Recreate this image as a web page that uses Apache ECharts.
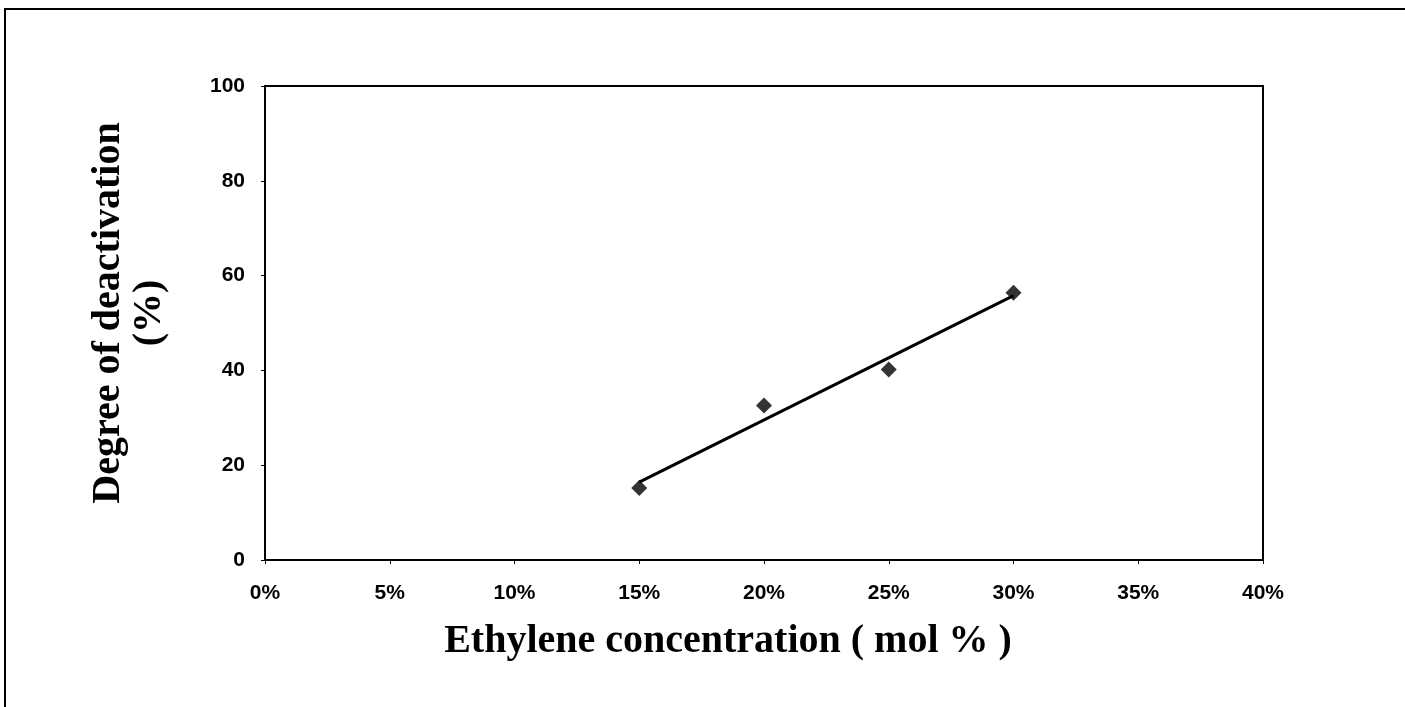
<!DOCTYPE html>
<html>
<head>
<meta charset="utf-8">
<script src="https://cdn.jsdelivr.net/npm/echarts@6/dist/echarts.min.js"></script>
<style>
html,body{margin:0;padding:0;background:#fff;}
#c{width:1405px;height:707px;}
</style>
</head>
<body>
<div id="c"></div>
<script>
// Data
var xValues = [0.15, 0.20, 0.25, 0.30];          // ethylene concentration (fraction)
var yValues = [15.2, 32.6, 40.2, 56.4];          // degree of deactivation (%)
var xTicks = [0, 0.05, 0.10, 0.15, 0.20, 0.25, 0.30, 0.35, 0.40];
var yTicks = [0, 20, 40, 60, 80, 100];

// Linear least-squares trendline (as in the original spreadsheet chart)
function linearFit(xs, ys) {
  var n = xs.length, sx = 0, sy = 0, sxx = 0, sxy = 0;
  for (var i = 0; i < n; i++) { sx += xs[i]; sy += ys[i]; sxx += xs[i]*xs[i]; sxy += xs[i]*ys[i]; }
  var m = (n*sxy - sx*sy) / (n*sxx - sx*sx);
  var b = (sy - m*sx) / n;
  return {m: m, b: b};
}
var fit = linearFit(xValues, yValues);
var xMin = Math.min.apply(null, xValues), xMax = Math.max.apply(null, xValues);
var trend = [[xMin, fit.m*xMin + fit.b], [xMax, fit.m*xMax + fit.b]];
var points = xValues.map(function(x, i){ return [x, yValues[i]]; });

var chart = echarts.init(document.getElementById('c'), null, {renderer: 'canvas'});
chart.setOption({
  animation: false,
  backgroundColor: '#ffffff',
  grid: {left: 265, top: 86, right: 142, bottom: 147, show: true, borderColor: '#000', borderWidth: 2, backgroundColor: 'transparent'},
  xAxis: {
    type: 'value', min: 0, max: 0.4, interval: 0.05,
    axisLine: {show: true, lineStyle: {color: '#000', width: 2}},
    axisTick: {show: true, length: 4, lineStyle: {color: '#000'}},
    splitLine: {show: false},
    axisLabel: {
      margin: 23, color: '#000', fontFamily: 'Liberation Sans', fontSize: 21, fontWeight: 'bold',
      formatter: function(v){ return Math.round(v*100) + '%'; }
    },
    name: 'Ethylene concentration ( mol % )',
    nameLocation: 'middle', nameGap: 62,
    nameTextStyle: {color: '#000', fontFamily: 'Liberation Serif', fontWeight: 'bold', fontSize: 40, padding: [0, 72, 0, 0]}
  },
  yAxis: {
    type: 'value', min: 0, max: 100, interval: 20,
    axisLine: {show: true, lineStyle: {color: '#000', width: 2}},
    axisTick: {show: true, length: 4, lineStyle: {color: '#000'}},
    splitLine: {show: false},
    axisLabel: {margin: 20, color: '#000', fontFamily: 'Liberation Sans', fontSize: 21, fontWeight: 'bold'},
    name: 'Degree of deactivation\n(%)',
    nameLocation: 'middle', nameGap: 95, nameRotate: 90,
    nameTextStyle: {color: '#000', fontFamily: 'Liberation Serif', fontWeight: 'bold', fontSize: 40, lineHeight: 41, align: 'center', padding: [0, 0, 0, 20]}
  },
  series: [
    {
      type: 'line', data: trend, symbol: 'none', silent: true,
      lineStyle: {color: '#000', width: 3}, z: 2
    },
    {
      type: 'scatter', data: points, symbol: 'diamond', symbolSize: 16,
      itemStyle: {color: '#000'}, z: 3
    }
  ],
  graphic: [
    {
      type: 'polyline', silent: true,
      shape: {points: [[5, 707], [5, 9], [1405, 9]]},
      style: {stroke: '#000', lineWidth: 2, fill: null}
    }
  ]
});
</script>
</body>
</html>
